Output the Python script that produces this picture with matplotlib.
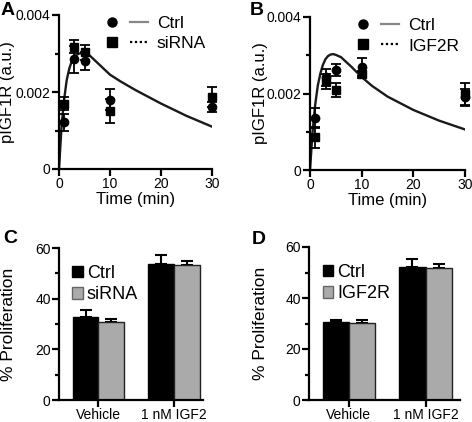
import numpy as np
import matplotlib
matplotlib.use("Agg")
import matplotlib.pyplot as plt
from matplotlib.lines import Line2D
from matplotlib.patches import Patch
from matplotlib.legend_handler import HandlerTuple
from matplotlib.ticker import MultipleLocator

plt.rcParams['font.family'] = ['Liberation Sans', 'DejaVu Sans']

# time course data (panel A / B)
t_pts = [1, 3, 5, 10, 30]
a_ctrl = [0.00122, 0.00285, 0.00281, 0.00180, 0.00162]
a_ctrl_err = [0.00022, 0.00035, 0.00023, 0.00028, 0.00013]
a_sirna = [0.00170, 0.00318, 0.00303, 0.00151, 0.00186]
a_sirna_err = [0.00017, 0.00017, 0.00020, 0.00032, 0.00026]

b_ctrl = [0.00135, 0.00242, 0.00261, 0.00270, 0.00191]
b_ctrl_err = [0.00026, 0.00023, 0.00015, 0.00023, 0.00020]
b_igf2r = [0.00085, 0.00232, 0.00209, 0.00250, 0.00198]
b_igf2r_err = [0.00028, 0.00020, 0.00018, 0.00010, 0.00030]

# fitted curves
curve_t = [0, 0.5, 1, 1.5, 2, 2.5, 3, 3.5, 4, 4.5, 5, 6, 8, 10, 12, 15, 20, 25, 30]
a_fit = [0, 0.00110, 0.00180, 0.00230, 0.00260, 0.00280, 0.00291, 0.00297, 0.00300,
         0.00301, 0.00300, 0.00295, 0.00270, 0.00245, 0.00228, 0.00205, 0.00170, 0.00138, 0.00110]
b_fit = [0, 0.00100, 0.00170, 0.00220, 0.00252, 0.00275, 0.00290, 0.00298, 0.00302,
         0.00303, 0.00301, 0.00295, 0.00270, 0.00243, 0.00220, 0.00192, 0.00157, 0.00129, 0.00106]

# proliferation data (panel C / D)
groups = ['Vehicle', '1 nM IGF2']
c_ctrl = [32.8, 53.7]
c_ctrl_err = [2.6, 3.5]
c_sirna = [30.8, 53.4]
c_sirna_err = [1.0, 1.4]
d_ctrl = [30.7, 52.2]
d_ctrl_err = [0.8, 3.0]
d_igf2r = [30.3, 51.8]
d_igf2r_err = [0.9, 1.7]

W, H = 472, 422
fig = plt.figure(figsize=(W / 100, H / 100), dpi=100)
fig.patch.set_facecolor('white')


def px_axes(l, r, t, b):
    return fig.add_axes([l / W, 1 - b / H, (r - l) / W, (b - t) / H])


def style(ax):
    for s in ['top', 'right']:
        ax.spines[s].set_visible(False)
    for s in ['left', 'bottom']:
        ax.spines[s].set_linewidth(1.6)
    ax.tick_params(axis='both', which='major', width=1.6, length=5, labelsize=10, pad=1)
    ax.tick_params(axis='both', which='minor', width=1.6, length=3)
    ax.tick_params(axis='x', which='minor', bottom=False)


def time_panel(ax, ctrl, ctrl_err, other, other_err, fit, label2):
    ax.plot(curve_t, fit, color='#1a1a1a', lw=1.7, zorder=2)
    ax.errorbar(t_pts, ctrl, yerr=ctrl_err, fmt='o', color='black', ms=6,
                capsize=3.5, elinewidth=1.3, capthick=1.3, clip_on=False, zorder=3)
    ax.errorbar(t_pts, other, yerr=other_err, fmt='s', color='black', ms=6,
                capsize=3.5, elinewidth=1.3, capthick=1.3, clip_on=False, zorder=4)
    ax.set_xlim(0, 30)
    ax.set_ylim(0, 0.004)
    ax.set_xticks([0, 10, 20, 30])
    ax.set_yticks([0, 0.002, 0.004])
    ax.set_yticklabels(['0', '0.002', '0.004'])
    ax.yaxis.set_minor_locator(MultipleLocator(0.001))
    style(ax)
    ax.set_xlabel('Time (min)', fontsize=12)
    ax.set_ylabel('pIGF1R (a.u.)', fontsize=12)
    h1 = (Line2D([], [], marker='o', ls='none', color='black', ms=6.5),
          Line2D([], [], color='#888888', lw=1.6))
    h2 = (Line2D([], [], marker='s', ls='none', color='black', ms=6.5),
          Line2D([], [], color='black', lw=1.6, ls=(0, (1, 1.2))))
    ax.legend([h1, h2], ['Ctrl', label2], handler_map={tuple: HandlerTuple(ndivide=None, pad=0.5)},
              loc='upper left', bbox_to_anchor=(0.23, 1.05), frameon=False, fontsize=12.5,
              handlelength=2.6, handletextpad=0.5, labelspacing=0.3, borderpad=0)


def bar_panel(ax, ctrl, ctrl_err, other, other_err, label2, xmax):
    x = np.arange(len(groups))
    w = 0.34
    ax.bar(x - w / 2, ctrl, w, color='black', edgecolor='black', lw=1, zorder=2)
    ax.bar(x + w / 2, other, w, color='#aaaaaa', edgecolor='#222222', lw=1, zorder=2)
    ax.errorbar(x - w / 2, ctrl, yerr=[[0, 0], ctrl_err], fmt='none', ecolor='black',
                capsize=4, elinewidth=1.5, capthick=1.5, zorder=1)
    ax.errorbar(x + w / 2, other, yerr=[[0, 0], other_err], fmt='none', ecolor='black',
                capsize=4, elinewidth=1.5, capthick=1.5, zorder=1)
    ax.set_xlim(-0.52, xmax)
    ax.set_ylim(0, 60)
    ax.set_xticks(x)
    ax.set_xticklabels(groups)
    ax.set_yticks([0, 20, 40, 60])
    ax.yaxis.set_minor_locator(MultipleLocator(10))
    style(ax)
    ax.set_ylabel('% Proliferation', fontsize=12.5)
    handles = [Patch(facecolor='black', edgecolor='black'),
               Patch(facecolor='#aaaaaa', edgecolor='#666666')]
    ax.legend(handles, ['Ctrl', label2], loc='upper left', bbox_to_anchor=(0.03, 0.95),
              frameon=False, fontsize=13, handlelength=0.6, handleheight=0.6,
              handletextpad=0.2, labelspacing=0.25, borderpad=0)


axA = px_axes(59, 212, 15, 169)
time_panel(axA, a_ctrl, a_ctrl_err, a_sirna, a_sirna_err, a_fit, 'siRNA')
axA.yaxis.set_label_coords(-0.29, 0.5)
axA.xaxis.set_label_coords(0.5, -0.15)

axB = px_axes(310, 465, 17, 170)
time_panel(axB, b_ctrl, b_ctrl_err, b_igf2r, b_igf2r_err, b_fit, 'IGF2R')
axB.yaxis.set_label_coords(-0.27, 0.5)
axB.xaxis.set_label_coords(0.5, -0.15)

axC = px_axes(59, 203, 248, 400)
bar_panel(axC, c_ctrl, c_ctrl_err, c_sirna, c_sirna_err, 'siRNA', 1.38)
axC.yaxis.set_label_coords(-0.30, 0.5)

axD = px_axes(309, 460, 247, 400)
bar_panel(axD, d_ctrl, d_ctrl_err, d_igf2r, d_igf2r_err, 'IGF2R', 1.45)
axD.yaxis.set_label_coords(-0.27, 0.5)

for lab, x, y in [('A', 1, 2), ('B', 250, 2), ('C', 3, 230), ('D', 252, 231)]:
    fig.text(x / W, 1 - y / H, lab, fontsize=14, fontweight='bold', ha='left', va='top')

fig.savefig('out.png', dpi=100)
